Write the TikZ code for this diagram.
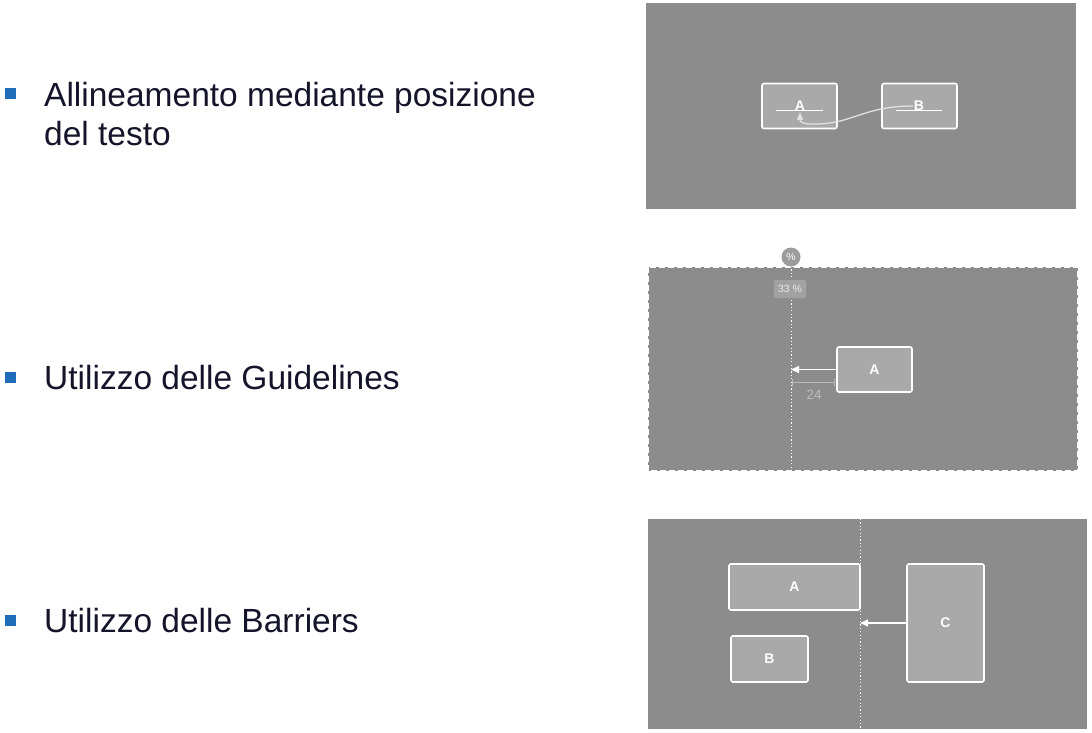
\documentclass[tikz,border=0pt]{standalone}
\usepackage{fontspec}
\setmainfont{Liberation Sans}
\usetikzlibrary{arrows.meta}
\definecolor{panel}{HTML}{8C8C8C}
\definecolor{boxfill}{HTML}{A9A9A9}
\definecolor{bul}{HTML}{1F6CB8}
\definecolor{txt}{HTML}{14142A}
\definecolor{curvecol}{HTML}{E0E0E0}
\definecolor{dimcol}{HTML}{BDBDBD}
\definecolor{pctfill}{HTML}{A2A2A2}
\definecolor{circfill}{HTML}{9C9C9C}
\begin{document}
\begin{tikzpicture}[x=1pt,y=-1pt,
  wbox/.style={draw=white,fill=boxfill,line width=1.6pt,rounded corners=2pt,inner sep=0,outer sep=0},
  lbl/.style={text=white,font=\fontsize{14}{14}\selectfont\bfseries,inner sep=0},
  bulletsq/.style={fill=bul,draw=none},
  maintext/.style={anchor=base west,inner sep=0,text=txt,align=left,font=\fontsize{33.5}{38.5}\selectfont},
  guide/.style={draw=white,line width=1pt,dash pattern=on 1.2pt off 2.2pt},
  conn/.style={draw=white,line width=1.2pt,-{Triangle[length=8pt,width=7pt]}},
]
\useasboundingbox (0,0) rectangle (1092,733);
\fill[white] (0,0) rectangle (1092,733);

% ---- left texts ----
\fill[bulletsq] (5,88) rectangle (16,99);
\node[maintext] (t1) at (44,145.5) {Allineamento mediante posizione\\del testo};
\fill[bulletsq] (5,372) rectangle (16,383);
\node[maintext] (t2) at (44,389) {Utilizzo delle Guidelines};
\fill[bulletsq] (5,615) rectangle (16,626);
\node[maintext] (t3) at (44,632) {Utilizzo delle Barriers};

% ---- panel 1 ----
\fill[panel] (646,3) rectangle (1076,209);
\node[wbox,minimum width=75pt,minimum height=45pt] (A1) at (799.5,106) {};
\node[wbox,minimum width=75pt,minimum height=45pt] (B1) at (919.5,106) {};
\draw[white,line width=1pt] (776,111) -- (823,111);
\draw[white,line width=1pt] (896,111) -- (942,111);
\node[lbl,anchor=base] (A1l) at (800,111) {A};
\node[lbl,anchor=base] (B1l) at (919,111) {B};
\coordinate (c1s) at (913,106);
\coordinate (c1e) at (800,112);
\draw[curvecol,line width=1.3pt,-{Triangle[length=8pt,width=6pt]}]
  (c1s) .. controls (862,106) and (852,125) .. (812,124)
        .. controls (803,124) and (800,122) .. (c1e);

% ---- panel 2 ----
\fill[panel] (648,267) rectangle (1078,471);
\draw[white,line width=1.2pt,dash pattern=on 6pt off 3pt] (648,267) rectangle (1078,471);
\coordinate (g2t) at (791,266);
\coordinate (g2b) at (791,471);
\draw[guide] (g2t) -- (g2b);
\node[circle,fill=circfill,minimum size=19pt,inner sep=0,text=white,font=\fontsize{10.5}{10.5}\selectfont] (pc) at (791,257) {\%};
\node[fill=pctfill,rounded corners=2pt,minimum width=32pt,minimum height=18pt,inner sep=0,text=white!92!black,font=\fontsize{10.5}{10.5}\selectfont] (p33) at (790,289) {33 \%};
\node[wbox,minimum width=75pt,minimum height=45pt] (A2) at (874.5,369.5) {};
\node[lbl] (A2l) at (A2.center) {A};
\draw[conn] (A2.west) -- (A2.west -| g2t);
\coordinate (d2a) at (792,382);
\coordinate (d2b) at (835,382);
\draw[dimcol,line width=1pt,{Bar[width=7pt]}-{Bar[width=7pt]}] (d2a) -- (d2b);
\node[text=dimcol,font=\fontsize{13.5}{13.5}\selectfont,inner sep=0] (n24) at (814,395) {24};

% ---- panel 3 ----
\fill[panel] (648,519) rectangle (1087,729);
\coordinate (g3t) at (860,519);
\coordinate (g3b) at (860,729);
\draw[guide] (g3t) -- (g3b);
\node[wbox,minimum width=131pt,minimum height=46pt] (A3) at (794.5,587) {};
\node[lbl] (A3l) at (A3.center) {A};
\node[wbox,minimum width=77pt,minimum height=46pt] (B3) at (769.5,659) {};
\node[lbl] (B3l) at (B3.center) {B};
\node[wbox,minimum width=77pt,minimum height=118pt] (C3) at (945.5,623) {};
\node[lbl] (C3l) at (C3.center) {C};
\draw[conn] (C3.west) -- (C3.west -| g3t);
\end{tikzpicture}
\end{document}
